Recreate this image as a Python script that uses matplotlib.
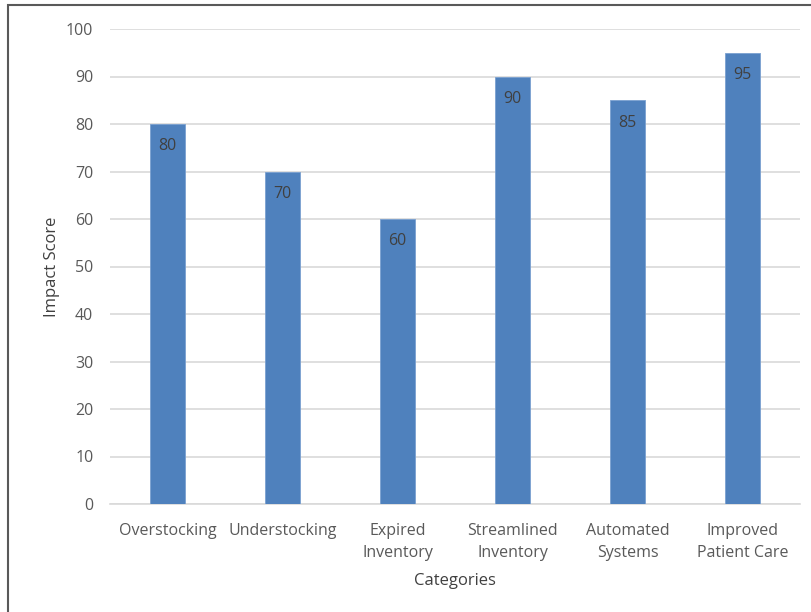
import matplotlib
matplotlib.use('Agg')
import matplotlib.pyplot as plt
from matplotlib.patches import Rectangle

categories = ["Overstocking", "Understocking", "Expired\nInventory",
              "Streamlined\nInventory", "Automated\nSystems", "Improved\nPatient Care"]
scores = [80, 70, 60, 90, 85, 95]
yticks = [0, 10, 20, 30, 40, 50, 60, 70, 80, 90, 100]

W, H = 812, 612
fig = plt.figure(figsize=(W / 100, H / 100), dpi=100)
plt.rcParams['font.family'] = ['Open Sans', 'DejaVu Sans']

# plot area in pixels: x 110..800, y 29..504
ax = fig.add_axes([110 / W, 1 - 504 / H, 690 / W, 475 / H])

x = range(len(categories))
bars = ax.bar(x, scores, width=0.31, color='#4f81bd', edgecolor='#7aa0d0', linewidth=0.6, zorder=3)
for b, v in zip(bars, scores):
    ax.text(b.get_x() + b.get_width() / 2, v - 4.7, str(v), ha='center', va='center',
            fontsize=11.5, color='#404040', zorder=4)

ax.set_xlim(-0.5, len(categories) - 0.5)
ax.set_ylim(0, 100)
ax.set_yticks(yticks)
ax.set_xticks(list(x))
ax.set_xticklabels(categories, fontsize=11.5, color='#595959', linespacing=1.45)
ax.tick_params(axis='y', labelsize=11.5, labelcolor='#595959', length=0, pad=12)
ax.tick_params(axis='x', length=0, pad=14)
ax.yaxis.grid(True, color='#d9d9d9', linewidth=1.2, zorder=0)
for s in ['top', 'right', 'left']:
    ax.spines[s].set_visible(False)
ax.spines['bottom'].set_color('#d9d9d9')
ax.spines['bottom'].set_linewidth(1.2)

ax.set_ylabel('Impact Score', fontsize=12, color='#404040', labelpad=4)
ax.set_xlabel('Categories', fontsize=12, color='#404040', labelpad=9)

# outer chart border (only left and top visible, rest cropped)
fig.patches.append(Rectangle((8 / W, -0.1), 1.2, 1 - 5 / H + 0.1, transform=fig.transFigure,
                             fill=False, edgecolor='#595959', linewidth=1.5))

fig.savefig('out.png', dpi=100)
